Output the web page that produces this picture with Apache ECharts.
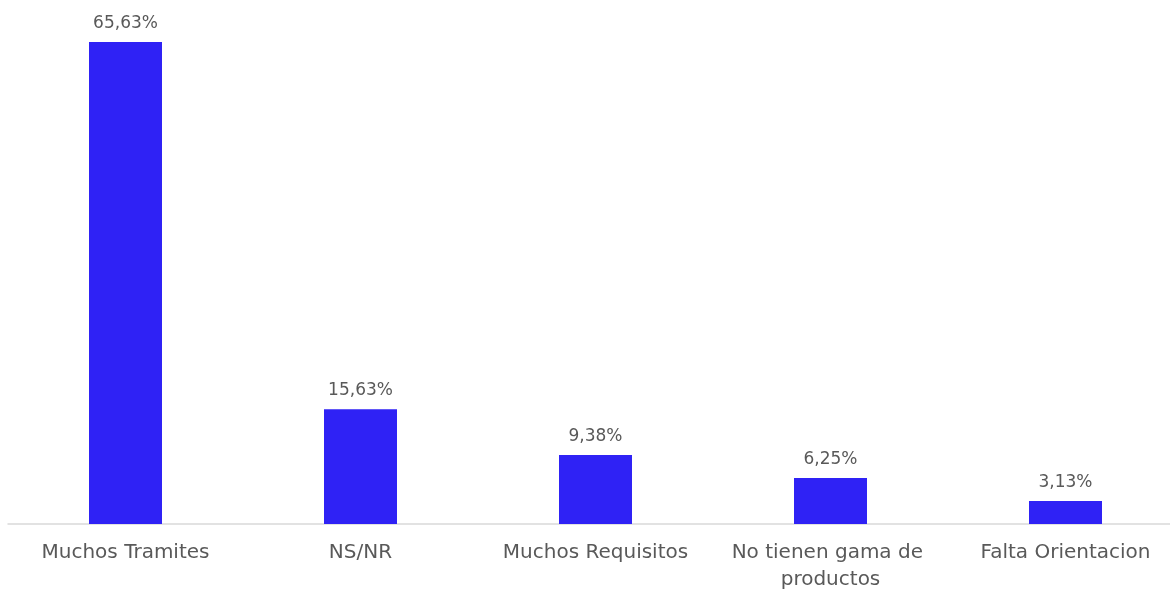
<!DOCTYPE html>
<html><head><meta charset="utf-8">
<script src="https://cdn.jsdelivr.net/npm/echarts@6/dist/echarts.min.js"></script>
<style>html,body{margin:0;padding:0;background:#fff}#c{width:1170px;height:590px}</style>
</head><body><div id="c"></div>
<script>
const categories = ["Muchos Tramites", "NS/NR", "Muchos Requisitos", "No tienen gama de productos", "Falta Orientacion"];
const values = [65.63, 15.63, 9.38, 6.25, 3.13];

const chart = echarts.init(document.getElementById('c'));
chart.setOption({
  animation: false,
  grid: {left: 8, right: -13, top: 10, bottom: 66, containLabel: false, outerBoundsMode: 'none'},
  xAxis: {
    type: 'category', data: categories,
    axisLine: {lineStyle: {color: '#d9d9d9', width: 1.5}},
    axisTick: {show: false},
    axisLabel: {color: '#595959', fontFamily: 'DejaVu Sans', fontSize: 20, margin: 15, lineHeight: 27,
      width: 225, overflow: 'break', interval: 0}
  },
  yAxis: {type: 'value', min: 0, max: 70, show: false, splitLine: {show: false}},
  series: [{
    type: 'bar', data: values, barWidth: 73,
    itemStyle: {color: '#2F22F5'},
    label: {show: true, position: 'top', distance: 10, color: '#595959', fontFamily: 'DejaVu Sans', fontSize: 17,
      formatter: p => p.value.toFixed(2).replace('.', ',') + '%'}
  }]
});
</script></body></html>
